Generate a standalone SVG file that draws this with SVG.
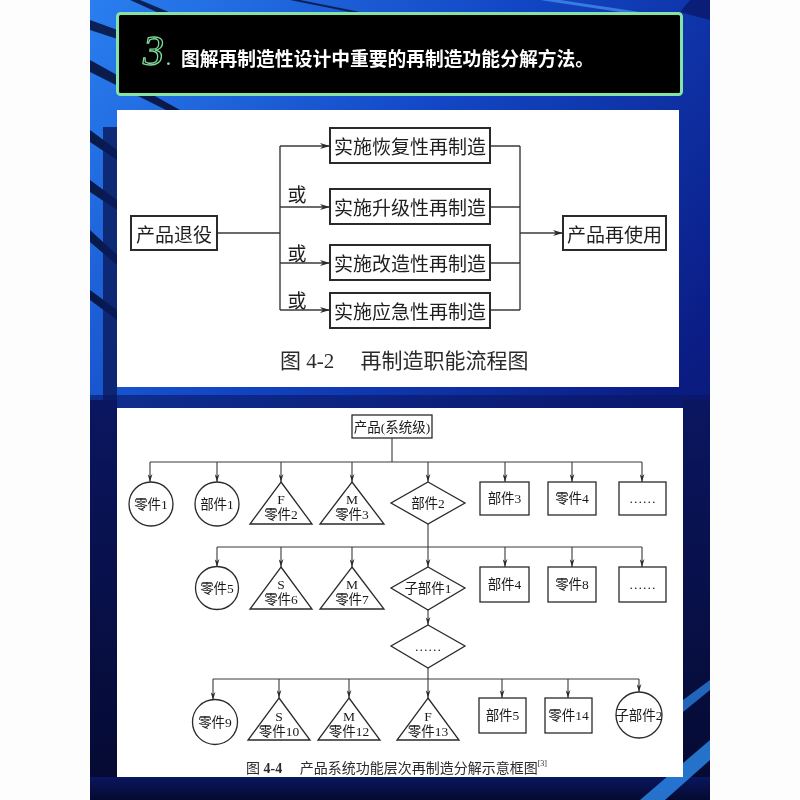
<svg xmlns="http://www.w3.org/2000/svg" width="800" height="800" viewBox="0 0 800 800">
<defs>
  <linearGradient id="bg" x1="0" y1="0" x2="1" y2="1">
    <stop offset="0" stop-color="#2a7ff0"/>
    <stop offset="0.35" stop-color="#1246c4"/>
    <stop offset="0.7" stop-color="#0b1d86"/>
    <stop offset="1" stop-color="#070f4a"/>
  </linearGradient>
  <linearGradient id="bot" x1="0" y1="0" x2="0" y2="1">
    <stop offset="0" stop-color="#0a1660"/>
    <stop offset="1" stop-color="#050a30"/>
  </linearGradient>
  <marker id="ah" viewBox="0 0 10 6" refX="10" refY="3" markerWidth="11" markerHeight="6" markerUnits="userSpaceOnUse" orient="auto">
    <path d="M0,0 L10,3 L0,6 L3,3 Z" fill="#2a2a2a"/>
  </marker>
  <marker id="as" viewBox="0 0 10 6" refX="10" refY="3" markerWidth="8" markerHeight="5" markerUnits="userSpaceOnUse" orient="auto">
    <path d="M0,0 L10,3 L0,6 L3,3 Z" fill="#2a2a2a"/>
  </marker>
  <style>
    .t1 { font-family: "Noto Sans CJK SC", sans-serif; font-size: 19px; fill: #1e1e1e; text-anchor: middle; dominant-baseline: central; }
    .t2 { font-family: "Liberation Serif", "Noto Sans CJK SC", serif; font-size: 13.5px; fill: #1a1a1a; text-anchor: middle; dominant-baseline: central; }
    .box1 { fill: #fff; stroke: #2a2a2a; stroke-width: 2; }
    .box2 { fill: #fff; stroke: #2a2a2a; stroke-width: 1.3; }
    .ln1 { fill: none; stroke: #3a3a3a; stroke-width: 1.4; }
    .ln2 { fill: none; stroke: #3a3a3a; stroke-width: 1.1; }
  </style>
</defs>

<!-- background -->
<rect x="0" y="0" width="800" height="800" fill="#fdfdfd"/>
<rect x="90" y="0" width="620" height="800" fill="url(#bg)"/>
<g opacity="0.85">
  <polygon points="90,20 200,60 200,66 90,30" fill="#061038"/>
  <polygon points="140,0 260,50 250,54 130,0" fill="#07143f"/>
  <polygon points="90,60 180,110 170,112 90,72" fill="#050c30"/>
  <polygon points="90,130 117,150 117,160 90,142" fill="#050c30"/>
  <polygon points="90,180 117,200 117,210 90,192" fill="#050c30"/>
  <polygon points="90,230 117,255 117,265 90,242" fill="#050c30"/>
  <polygon points="90,290 117,310 117,320 90,300" fill="#050c30"/>
  <polygon points="300,0 360,12 350,12 290,0" fill="#07143f"/>
  <polygon points="560,0 640,12 620,12 540,0" fill="#5fb6ff" opacity="0.6"/>
  <polygon points="690,0 710,0 710,20 680,12" fill="#0a1b70"/>
</g>
<rect x="103" y="127" width="14" height="274" fill="#0a1a5c" opacity="0.8"/>
<rect x="90" y="395" width="620" height="20" fill="#0a1660" opacity="0.6"/>
<rect x="90" y="400" width="27" height="400" fill="url(#bot)"/>
<rect x="683" y="400" width="27" height="400" fill="url(#bot)"/>
<rect x="90" y="777" width="620" height="23" fill="url(#bot)"/>
<polygon points="640,800 710,740 710,760 665,800" fill="#2d8cf0" opacity="0.8"/>
<polygon points="683,700 710,680 710,690 683,712" fill="#2d8cf0" opacity="0.7"/>

<!-- header -->
<g id="header">
  <rect x="117.5" y="13.5" width="564" height="81" rx="3" fill="#000" stroke="#86e3a6" stroke-width="3"/>
  <text x="143" y="65" font-family="Liberation Serif, serif" font-style="italic" font-size="42" fill="none" stroke="#7ddc98" stroke-width="1.3">3</text>
  <text x="166" y="65" font-family="Liberation Serif, serif" font-style="italic" font-size="24" fill="#7ddc98">.</text>
  <text x="181" y="66" font-family="Noto Sans CJK SC, sans-serif" font-weight="700" font-size="19" fill="#ffffff" textLength="413" lengthAdjust="spacingAndGlyphs">图解再制造性设计中重要的再制造功能分解方法。</text>
</g>

<!-- top panel -->
<rect x="117" y="110" width="562" height="277" fill="#ffffff"/>
<g id="top-connectors">
  <path class="ln1" d="M217,233 H280 M280,146 V310"/>
  <path class="ln1" d="M280,146 H330" marker-end="url(#ah)"/>
  <path class="ln1" d="M280,207 H330" marker-end="url(#ah)"/>
  <path class="ln1" d="M280,263 H330" marker-end="url(#ah)"/>
  <path class="ln1" d="M280,310 H330" marker-end="url(#ah)"/>
  <path class="ln1" d="M490,146 H520 M490,207 H520 M490,263 H520 M490,310 H520 M520,146 V310"/>
  <path class="ln1" d="M520,233 H563" marker-end="url(#ah)"/>
  <text class="t1" x="297" y="193" font-size="18">或</text>
  <text class="t1" x="297" y="252" font-size="18">或</text>
  <text class="t1" x="297" y="299" font-size="18">或</text>
</g>
<g id="n-retire"><rect class="box1" x="131" y="216" width="86" height="34"/><text class="t1" x="174" y="233" font-size="18">产品退役</text></g>
<g id="n-restore"><rect class="box1" x="330" y="128" width="160" height="35"/><text class="t1" x="410" y="145.5">实施恢复性再制造</text></g>
<g id="n-upgrade"><rect class="box1" x="330" y="189" width="160" height="35"/><text class="t1" x="410" y="206.5">实施升级性再制造</text></g>
<g id="n-modify"><rect class="box1" x="330" y="245" width="160" height="35"/><text class="t1" x="410" y="262.5">实施改造性再制造</text></g>
<g id="n-emerg"><rect class="box1" x="330" y="293" width="160" height="35"/><text class="t1" x="410" y="310.5">实施应急性再制造</text></g>
<g id="n-reuse"><rect class="box1" x="563" y="216" width="103" height="34"/><text class="t1" x="614.5" y="233" font-size="18">产品再使用</text></g>
<text x="280" y="361" font-family="Liberation Serif, Noto Sans CJK SC, serif" font-size="21" fill="#2a2a2a" dominant-baseline="central">图 4-2　 再制造职能流程图</text>

<!-- bottom panel -->
<rect x="117" y="408" width="566" height="369" fill="#ffffff"/>
<g id="bottom-connectors">
  <path class="ln2" d="M392,438 V462 M150,462 H642"/>
  <path class="ln2" d="M150,462 V482" marker-end="url(#as)"/>
  <path class="ln2" d="M217,462 V482" marker-end="url(#as)"/>
  <path class="ln2" d="M281,462 V482" marker-end="url(#as)"/>
  <path class="ln2" d="M352,462 V482" marker-end="url(#as)"/>
  <path class="ln2" d="M428,462 V482" marker-end="url(#as)"/>
  <path class="ln2" d="M505,462 V482" marker-end="url(#as)"/>
  <path class="ln2" d="M572,462 V482" marker-end="url(#as)"/>
  <path class="ln2" d="M642,462 V482" marker-end="url(#as)"/>

  <path class="ln2" d="M428,524 V547 M217,547 H642"/>
  <path class="ln2" d="M217,547 V567" marker-end="url(#as)"/>
  <path class="ln2" d="M281,547 V567" marker-end="url(#as)"/>
  <path class="ln2" d="M352,547 V567" marker-end="url(#as)"/>
  <path class="ln2" d="M428,547 V567" marker-end="url(#as)"/>
  <path class="ln2" d="M505,547 V567" marker-end="url(#as)"/>
  <path class="ln2" d="M572,547 V567" marker-end="url(#as)"/>
  <path class="ln2" d="M642,547 V567" marker-end="url(#as)"/>
  <path class="ln2" d="M428,610 V625" marker-end="url(#as)"/>

  <path class="ln2" d="M428,668 V679 M213,679 H639"/>
  <path class="ln2" d="M213,679 V700" marker-end="url(#as)"/>
  <path class="ln2" d="M279,679 V698" marker-end="url(#as)"/>
  <path class="ln2" d="M349,679 V698" marker-end="url(#as)"/>
  <path class="ln2" d="M428,679 V698" marker-end="url(#as)"/>
  <path class="ln2" d="M502,679 V698" marker-end="url(#as)"/>
  <path class="ln2" d="M568,679 V698" marker-end="url(#as)"/>
  <path class="ln2" d="M639,679 V692" marker-end="url(#as)"/>
</g>

<g id="n-product"><rect class="box2" x="352" y="415" width="80" height="23"/><text class="t2" x="392" y="427" font-size="13">产品(系统级)</text></g>

<g id="n-part1"><circle class="box2" cx="151" cy="504" r="22"/><text class="t2" x="151" y="504">零件1</text></g>
<g id="n-comp1"><circle class="box2" cx="217" cy="504" r="22"/><text class="t2" x="217" y="504">部件1</text></g>
<g id="n-part2"><polygon class="box2" points="281,482 312,524 250,524"/><text class="t2" x="281" y="499">F</text><text class="t2" x="281" y="514">零件2</text></g>
<g id="n-part3"><polygon class="box2" points="352,482 384,524 320,524"/><text class="t2" x="352" y="499">M</text><text class="t2" x="352" y="514">零件3</text></g>
<g id="n-comp2"><polygon class="box2" points="428,482 465,503 428,524 391,503"/><text class="t2" x="428" y="503">部件2</text></g>
<g id="n-comp3"><rect class="box2" x="480" y="482" width="49" height="33"/><text class="t2" x="504.5" y="498.5">部件3</text></g>
<g id="n-part4"><rect class="box2" x="548" y="482" width="48" height="33"/><text class="t2" x="572" y="498.5">零件4</text></g>
<g id="n-more1"><rect class="box2" x="619" y="482" width="47" height="33"/><text class="t2" x="642.5" y="498.5">……</text></g>

<g id="n-part5"><circle class="box2" cx="217" cy="588" r="21.5"/><text class="t2" x="217" y="588">零件5</text></g>
<g id="n-part6"><polygon class="box2" points="281,567 312,609 250,609"/><text class="t2" x="281" y="584">S</text><text class="t2" x="281" y="599">零件6</text></g>
<g id="n-part7"><polygon class="box2" points="352,567 384,609 320,609"/><text class="t2" x="352" y="584">M</text><text class="t2" x="352" y="599">零件7</text></g>
<g id="n-sub1"><polygon class="box2" points="428,567 465,588 428,610 391,588"/><text class="t2" x="428" y="588">子部件1</text></g>
<g id="n-comp4"><rect class="box2" x="480" y="567" width="49" height="35"/><text class="t2" x="504.5" y="584.5">部件4</text></g>
<g id="n-part8"><rect class="box2" x="548" y="567" width="48" height="35"/><text class="t2" x="572" y="584.5">零件8</text></g>
<g id="n-more2"><rect class="box2" x="619" y="567" width="47" height="35"/><text class="t2" x="642.5" y="584.5">……</text></g>

<g id="n-more3"><polygon class="box2" points="428,625 465,646 428,668 391,646"/><text class="t2" x="428" y="646">……</text></g>

<g id="n-part9"><circle class="box2" cx="215" cy="722" r="22.5"/><text class="t2" x="215" y="722">零件9</text></g>
<g id="n-part10"><polygon class="box2" points="279,698 310,740 248,740"/><text class="t2" x="279" y="716">S</text><text class="t2" x="279" y="731">零件10</text></g>
<g id="n-part12"><polygon class="box2" points="349,698 380,740 318,740"/><text class="t2" x="349" y="716">M</text><text class="t2" x="349" y="731">零件12</text></g>
<g id="n-part13"><polygon class="box2" points="428,698 459,740 397,740"/><text class="t2" x="428" y="716">F</text><text class="t2" x="428" y="731">零件13</text></g>
<g id="n-comp5"><rect class="box2" x="479" y="698" width="47" height="35"/><text class="t2" x="502.5" y="715.5">部件5</text></g>
<g id="n-part14"><rect class="box2" x="545" y="698" width="47" height="35"/><text class="t2" x="568.5" y="715.5">零件14</text></g>
<g id="n-sub2"><circle class="box2" cx="639" cy="715" r="23"/><text class="t2" x="639" y="715">子部件2</text></g>

<text x="246" y="768" font-family="Liberation Serif, Noto Sans CJK SC, serif" font-size="14" fill="#2a2a2a" dominant-baseline="central">图 <tspan font-weight="bold">4-4</tspan>　 产品系统功能层次再制造分解示意框图<tspan font-size="8" dy="-5">[3]</tspan></text>
</svg>
